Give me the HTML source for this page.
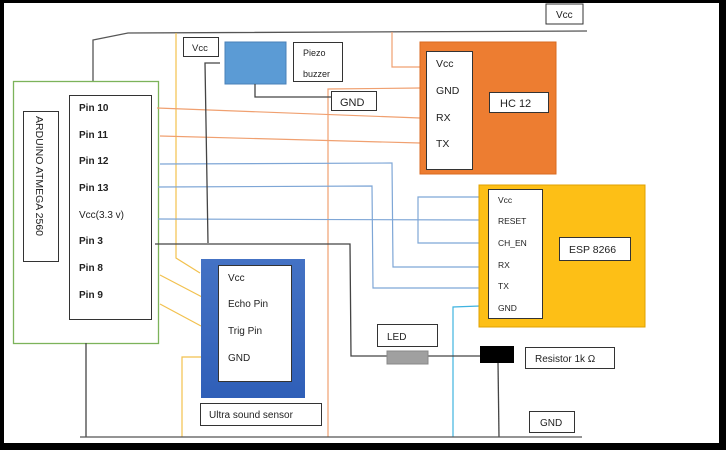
<!DOCTYPE html>
<html><head><style>
body{margin:0;background:#000;}
svg{display:block;}
text{font-family:"Liberation Sans",sans-serif;fill:#222;}
</style></head><body>
<svg width="726" height="450" viewBox="0 0 726 450" xmlns="http://www.w3.org/2000/svg">
<rect x="0" y="0" width="726" height="450" fill="#000"/>
<rect x="4" y="3" width="715" height="440" fill="#fff"/>

<!-- top black wire -->
<polyline points="93,83 93,40 128,33 587,31" fill="none" stroke="#555" stroke-width="1.3"/>
<rect x="546" y="4" width="37" height="20" fill="#fff" stroke="#333"/>
<text x="556" y="18" font-size="10">Vcc</text>

<!-- Arduino -->
<rect x="13.5" y="81.5" width="145" height="262" fill="#fff" stroke="#7cb35a" stroke-width="1.3"/>
<rect x="69.5" y="95.5" width="82" height="224" fill="#fff" stroke="#333"/>
<rect x="23.5" y="111.5" width="35" height="150" fill="#fff" stroke="#333"/>
<text transform="translate(36,116) rotate(90)" font-size="10.5">ARDUINO ATMEGA 2560</text>
<g font-size="10" font-weight="bold" fill="#333">
<text x="79" y="111">Pin 10</text>
<text x="79" y="138">Pin 11</text>
<text x="79" y="164">Pin 12</text>
<text x="79" y="191">Pin 13</text>
<text x="79" y="218" font-weight="normal">Vcc(3.3 v)</text>
<text x="79" y="244">Pin 3</text>
<text x="79" y="271">Pin 8</text>
<text x="79" y="298">Pin 9</text>
</g>

<!-- yellow wires -->
<polyline points="176,33 176,258 200,273" fill="none" stroke="#f2c14e" stroke-width="1.2"/>
<line x1="160" y1="275" x2="204" y2="298" stroke="#f2c14e" stroke-width="1.2"/>
<line x1="160" y1="304" x2="201" y2="326" stroke="#f2c14e" stroke-width="1.2"/>
<polyline points="202,357 182,357 182,437" fill="none" stroke="#f2c14e" stroke-width="1.2"/>

<!-- orange wires -->
<polyline points="328,437 328,89 420,88" fill="none" stroke="#f0a070" stroke-width="1.2"/>
<polyline points="392,32 392,67 420,67" fill="none" stroke="#f0a070" stroke-width="1.2"/>
<line x1="157" y1="108" x2="420" y2="118" stroke="#f0a070" stroke-width="1.2"/>
<line x1="160" y1="136" x2="420" y2="143" stroke="#f0a070" stroke-width="1.2"/>

<!-- blue wires -->
<g fill="none" stroke="#7ea6d6" stroke-width="1.2">
<polyline points="160,164 392,163 393,267 480,267"/>
<polyline points="158,187 372,186 373,288 480,288"/>
<polyline points="158,219 480,220"/>
<polyline points="480,197 418,197 418,243 480,243"/>
</g>
<polyline points="453,437 453,307 480,306" fill="none" stroke="#3fb3e0" stroke-width="1.2"/>

<!-- black wires -->
<polyline points="220,63 205,63 208,243" fill="none" stroke="#444" stroke-width="1.3"/>
<polyline points="155,244 350,244 351,356 387,356" fill="none" stroke="#444" stroke-width="1.3"/>
<line x1="428" y1="356" x2="480" y2="356" stroke="#444" stroke-width="1.3"/>
<line x1="498" y1="362" x2="499" y2="437" stroke="#444" stroke-width="1.3"/>
<line x1="86" y1="343" x2="86" y2="437" stroke="#444" stroke-width="1.3"/>
<line x1="80" y1="437" x2="582" y2="437" stroke="#555" stroke-width="1.3"/>

<!-- Vcc box -->
<rect x="183.5" y="37.5" width="35" height="19" fill="#fff" stroke="#333"/>
<text x="192" y="51" font-size="9.5">Vcc</text>

<!-- piezo -->
<rect x="225" y="42" width="61" height="42" fill="#5b9bd5" stroke="#4a80b8"/>
<polyline points="255,84 255,97 331,97" fill="none" stroke="#444" stroke-width="1.3"/>
<rect x="293.5" y="42.5" width="49" height="39" fill="#fff" stroke="#333"/>
<text x="303" y="56" font-size="9">Piezo</text>
<text x="303" y="77" font-size="9">buzzer</text>
<rect x="331.5" y="91.5" width="45" height="19" fill="#fff" stroke="#333"/>
<text x="340" y="106" font-size="11">GND</text>

<!-- HC12 -->
<rect x="420" y="42" width="136" height="132" fill="#ed7d31" stroke="#d96a20"/>
<rect x="426.5" y="51.5" width="46" height="118" fill="#fff" stroke="#333"/>
<g font-size="10.5" fill="#333">
<text x="436" y="67">Vcc</text>
<text x="436" y="94">GND</text>
<text x="436" y="121">RX</text>
<text x="436" y="147">TX</text>
</g>
<rect x="489.5" y="92.5" width="59" height="20" fill="#fff" stroke="#333"/>
<text x="500" y="107" font-size="11">HC 12</text>

<!-- ESP -->
<rect x="479" y="185" width="166" height="142" fill="#fdbf16" stroke="#e0a000"/>
<rect x="488.5" y="189.5" width="54" height="129" fill="#fff" stroke="#333"/>
<g font-size="8.5" fill="#333">
<text x="498" y="203">Vcc</text>
<text x="498" y="224">RESET</text>
<text x="498" y="246">CH_EN</text>
<text x="498" y="268">RX</text>
<text x="498" y="289">TX</text>
<text x="498" y="311">GND</text>
</g>
<rect x="559.5" y="237.5" width="71" height="23" fill="#fff" stroke="#333"/>
<text x="569" y="253" font-size="10.5">ESP 8266</text>

<!-- Ultrasonic -->
<defs><linearGradient id="g" x1="0" y1="0" x2="0" y2="1"><stop offset="0" stop-color="#4472c4"/><stop offset="1" stop-color="#2f5fb8"/></linearGradient></defs>
<rect x="201" y="259" width="104" height="139" fill="url(#g)"/>
<rect x="218.5" y="265.5" width="73" height="116" fill="#fff" stroke="#333"/>
<g font-size="10" fill="#333">
<text x="228" y="281">Vcc</text>
<text x="228" y="307">Echo Pin</text>
<text x="228" y="334">Trig Pin</text>
<text x="228" y="361">GND</text>
</g>
<rect x="200.5" y="403.5" width="121" height="22" fill="#fff" stroke="#333"/>
<text x="209" y="418" font-size="10">Ultra sound sensor</text>

<!-- LED / resistor -->
<rect x="377.5" y="324.5" width="60" height="22" fill="#fff" stroke="#333"/>
<text x="387" y="340" font-size="10">LED</text>
<rect x="387" y="351" width="41" height="13" fill="#a0a0a0" stroke="#888"/>
<rect x="480" y="346" width="34" height="17" fill="#000"/>
<rect x="525.5" y="347.5" width="89" height="21" fill="#fff" stroke="#333"/>
<text x="535" y="362" font-size="10">Resistor 1k Ω</text>
<rect x="529.5" y="411.5" width="45" height="21" fill="#fff" stroke="#333"/>
<text x="540" y="426" font-size="10">GND</text>
</svg>
</body></html>
